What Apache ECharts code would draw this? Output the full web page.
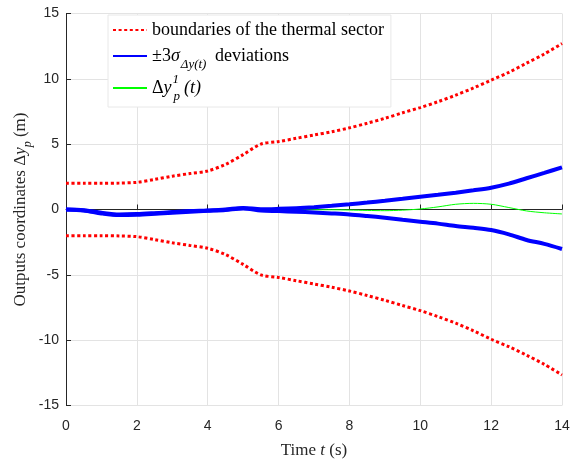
<!DOCTYPE html>
<html>
<head>
<meta charset="utf-8">
<script src="https://cdn.jsdelivr.net/npm/echarts@6/dist/echarts.min.js"></script>
<style>html,body{margin:0;padding:0;background:#fff}#c{width:571px;height:459px}</style>
</head>
<body>
<div id="c"></div>
<script>
// Time samples (s)
var time = [0, 0.5, 1, 1.5, 2, 2.5, 3, 3.5, 4, 4.5, 5, 5.5, 6, 6.5, 7, 7.5, 8, 8.5, 9, 9.5, 10, 10.5, 11, 11.5, 12, 12.5, 13, 13.5, 14];
// Thermal sector boundaries
var boundUpper = [2, 2, 2, 2.02, 2.08, 2.3, 2.55, 2.75, 2.95, 3.45, 4.2, 5.0, 5.2, 5.45, 5.7, 5.95, 6.25, 6.6, 6.98, 7.4, 7.8, 8.25, 8.75, 9.3, 9.9, 10.5, 11.2, 11.9, 12.7];
var boundLower = [-2, -2, -2, -2.02, -2.08, -2.3, -2.55, -2.75, -2.97, -3.45, -4.2, -5.0, -5.2, -5.45, -5.7, -5.95, -6.24, -6.58, -6.95, -7.35, -7.74, -8.2, -8.7, -9.28, -9.93, -10.5, -11.15, -11.85, -12.66];
// +/- 3 sigma deviations
var sigmaUpper = [0, -0.05, -0.25, -0.38, -0.35, -0.28, -0.2, -0.12, -0.07, 0, 0.12, 0.02, 0.05, 0.1, 0.18, 0.28, 0.4, 0.53, 0.67, 0.82, 0.98, 1.13, 1.29, 1.47, 1.67, 1.98, 2.39, 2.8, 3.23];
var sigmaLower = [0, -0.07, -0.3, -0.43, -0.4, -0.33, -0.25, -0.17, -0.1, -0.03, 0.08, -0.08, -0.12, -0.17, -0.23, -0.3, -0.38, -0.5, -0.63, -0.78, -0.93, -1.08, -1.26, -1.4, -1.57, -1.9, -2.33, -2.63, -3.02];
// Delta y_p^1(t)
var dyp = [0, -0.06, -0.27, -0.4, -0.37, -0.3, -0.22, -0.14, -0.08, -0.02, 0.1, -0.03, -0.03, -0.03, -0.02, -0.02, -0.04, -0.07, -0.09, -0.05, 0.04, 0.2, 0.4, 0.47, 0.4, 0.15, -0.11, -0.25, -0.34];
var xTicks = [0, 2, 4, 6, 8, 10, 12, 14];
var yTicks = [-15, -10, -5, 0, 5, 10, 15];

function pairs(v) { return time.map(function (t, i) { return [t, v[i]]; }); }

var serif = '"Liberation Serif", "Times New Roman", serif';
var sans = '"Liberation Sans", Arial, sans-serif';
var axisCol = '#262626';

var chart = echarts.init(document.getElementById('c'), null, {renderer: 'canvas'});
var redStyle = {color: '#ff0000', width: 3, type: [3, 2.6]};
var blueStyle = {color: '#0000ff', width: 4};
var greenStyle = {color: '#00ff00', width: 1};

var legendRich = {
  a: {fontFamily: serif, fontSize: 18, color: '#000'},
  n: {fontFamily: serif, fontSize: 18, color: '#000', lineHeight: 30},
  i: {fontFamily: serif, fontSize: 18, fontStyle: 'italic', color: '#000', lineHeight: 30},
  sb: {fontFamily: serif, fontSize: 13, fontStyle: 'italic', color: '#000', lineHeight: 12, verticalAlign: 'bottom', padding: [0, 4, 0, 1]},
  sp: {fontFamily: serif, fontSize: 13, fontStyle: 'italic', color: '#000', lineHeight: 12, verticalAlign: 'top', width: 0, padding: [0, 0, 0, 1]}
};
function legendFmt(name) {
  if (name === 'bound') return '{a|boundaries of the thermal sector}';
  if (name === 'sigma') return '{n|±3}{i|σ}{sb|Δy(t)}{n| deviations}';
  return '{n|Δ}{i|y}{sp|1}{sb|p}{i|(t)}';
}
function makeLegend(name, top, padding, boxed, z) {
  return {
    left: 108, top: top, orient: 'vertical', z: z,
    padding: padding, itemGap: 0, itemWidth: 34, itemHeight: 14,
    backgroundColor: boxed ? '#ffffff' : 'transparent',
    borderColor: boxed ? '#e8e8e8' : 'transparent', borderWidth: boxed ? 1 : 0,
    itemStyle: {opacity: 0},
    data: [name],
    formatter: legendFmt,
    textStyle: {rich: legendRich}
  };
}

chart.setOption({
  animation: false,
  backgroundColor: '#ffffff',
  grid: {left: 66, right: 9, top: 13.5, bottom: 53.5, outerBoundsMode: 'none', containLabel: false},
  xAxis: {
    type: 'value', min: xTicks[0], max: xTicks[xTicks.length - 1], interval: 2,
    name: '{n|Time }{i|t}{n| (s)}', nameLocation: 'middle', nameGap: 37, nameMoveOverlap: false,
    nameTextStyle: {rich: {n: {fontFamily: serif, fontSize: 17, color: axisCol}, i: {fontFamily: serif, fontSize: 17, fontStyle: 'italic', color: axisCol}}},
    axisLine: {show: true, lineStyle: {color: axisCol, width: 1}},
    axisTick: {show: true, inside: true, length: 5, lineStyle: {color: axisCol}},
    axisLabel: {fontFamily: sans, fontSize: 14, color: axisCol, margin: 14},
    splitLine: {show: true, lineStyle: {color: '#e3e3e3', width: 1}}
  },
  yAxis: {
    type: 'value', min: yTicks[0], max: yTicks[yTicks.length - 1], interval: 5,
    name: '{n|Outputs coordinates Δ}{i|y}{s|p}{n| (m)}', nameLocation: 'middle', nameGap: 32, nameRotate: 90, nameMoveOverlap: false,
    nameTextStyle: {rich: {
      n: {fontFamily: serif, fontSize: 17, color: axisCol, lineHeight: 26},
      i: {fontFamily: serif, fontSize: 17, fontStyle: 'italic', color: axisCol, lineHeight: 26},
      s: {fontFamily: serif, fontSize: 12, fontStyle: 'italic', color: axisCol, lineHeight: 12, verticalAlign: 'bottom'}
    }},
    axisLine: {show: true, lineStyle: {color: axisCol, width: 1}},
    axisTick: {show: true, inside: true, length: 5, lineStyle: {color: axisCol}},
    axisLabel: {fontFamily: sans, fontSize: 14, color: axisCol, margin: 7},
    splitLine: {show: true, lineStyle: {color: '#e3e3e3', width: 1}}
  },
  legend: [
    makeLegend('bound', 15, [6, 7, 68, 4], true, 4),
    makeLegend('sigma', 47, [0, 4, 0, 4], false, 5),
    makeLegend('dyp', 73, [0, 4, 0, 4], false, 5)
  ],
  series: [
    {name: 'bound', type: 'line', data: pairs(boundUpper), symbol: 'none', smooth: 0.3, lineStyle: redStyle, itemStyle: {color: '#ff0000'}, z: 2},
    {name: 'bound', type: 'line', data: pairs(boundLower), symbol: 'none', smooth: 0.3, lineStyle: redStyle, itemStyle: {color: '#ff0000'}, z: 2},
    {name: 'dyp', type: 'line', data: pairs(dyp), symbol: 'none', smooth: 0.3, lineStyle: greenStyle, itemStyle: {color: '#00ff00'}, z: 2},
    {name: 'sigma', type: 'line', data: pairs(sigmaUpper), symbol: 'none', smooth: 0.3, lineStyle: blueStyle, itemStyle: {color: '#0000ff'}, z: 3},
    {name: 'sigma', type: 'line', data: pairs(sigmaLower), symbol: 'none', smooth: 0.3, lineStyle: blueStyle, itemStyle: {color: '#0000ff'}, z: 3}
  ]
});
</script>
</body>
</html>
